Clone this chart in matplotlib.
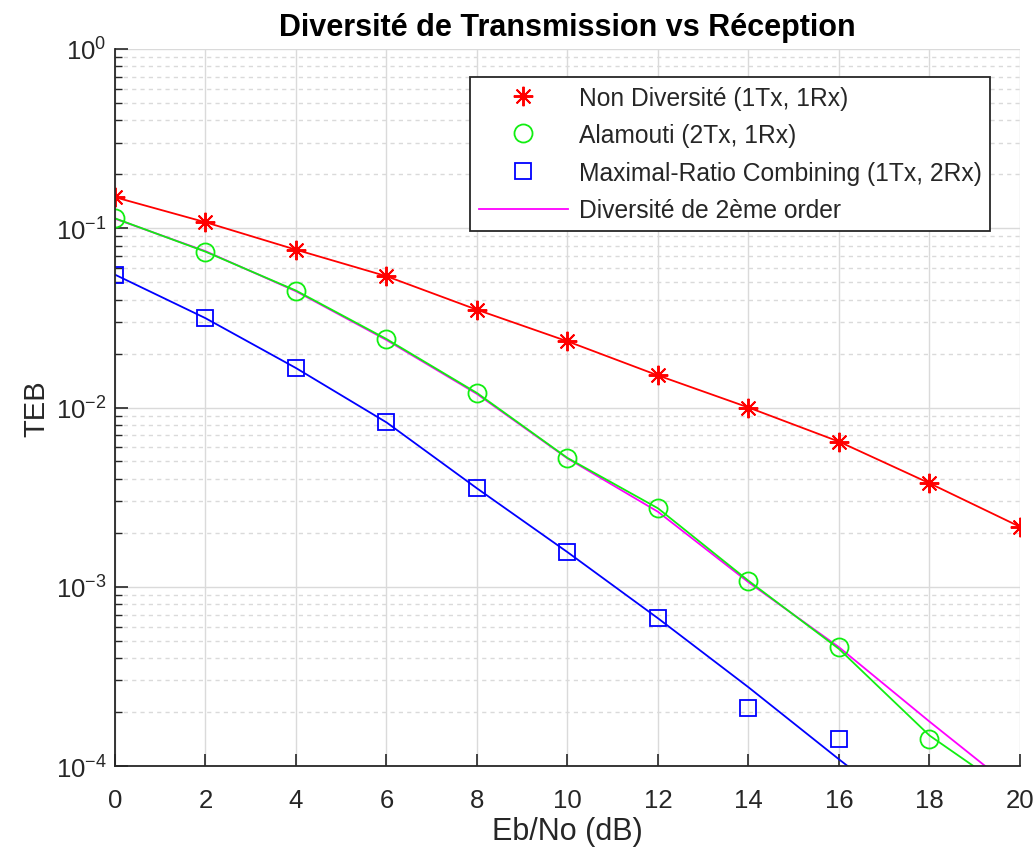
import numpy as np
import matplotlib
matplotlib.use("Agg")
import matplotlib.pyplot as plt
from matplotlib.ticker import LogLocator, NullFormatter

plt.rcParams['font.family'] = ['Liberation Sans', 'DejaVu Sans']

# Eb/No (dB)
snr_db = [0, 2, 4, 6, 8, 10, 12, 14, 16, 18, 20]

# simulated points (markers)
ber_siso = [0.149, 0.108, 0.0759, 0.0540, 0.0351, 0.0234, 0.0151, 0.0100, 0.00645, 0.00378, 0.00216]
ber_alamouti = [0.1136, 0.0740, 0.0449, 0.0241, 0.01205, 0.00523, 0.00274, 0.00108, 0.000459, 0.000141]
ber_mrc = [0.0551, 0.0315, 0.0166, 0.00826, 0.00354, 0.001556, 0.000667, 0.000211, 0.000141]

# curves (lines)
line_siso = [0.149, 0.108, 0.0759, 0.0540, 0.0351, 0.0234, 0.0151, 0.0100, 0.00645, 0.00378, 0.00216]
line_alamouti = [0.1136, 0.0740, 0.0449, 0.0241, 0.01205, 0.00523, 0.00274, 0.00108, 0.000450, 0.000148, 0.000066]
line_mrc = [0.0551, 0.0315, 0.0166, 0.00826, 0.00354, 0.00156, 0.000667, 0.000275, 0.000109, 0.000044, 0.000018]
line_div2 = [0.1130, 0.0745, 0.0445, 0.0238, 0.0119, 0.00520, 0.00262, 0.00106, 0.000460, 0.000177, 0.000070]

labels = ['Non Diversité (1Tx, 1Rx)', 'Alamouti (2Tx, 1Rx)',
          'Maximal-Ratio Combining (1Tx, 2Rx)', 'Diversité de 2ème order']

txt = '#262626'
green = '#11ee11'
fig = plt.figure(figsize=(10.33, 8.53), dpi=100)
ax = fig.add_axes([0.1113, 0.1008, 0.8761, 0.8406])

# asterisk like MATLAB '*'
ax.plot(snr_db, ber_siso, linestyle='none', marker=(8, 2, 0), color='red', markersize=14,
        markeredgewidth=1.4, label=labels[0])
ax.plot(snr_db[:len(ber_alamouti)], ber_alamouti, linestyle='none', marker='o', color=green,
        markerfacecolor='none', markersize=13, markeredgewidth=1.3, label=labels[1])
ax.plot(snr_db[:len(ber_mrc)], ber_mrc, linestyle='none', marker='s', color='blue',
        markerfacecolor='none', markersize=11, markeredgewidth=1.3, label=labels[2])
ax.plot(snr_db, line_siso, color='red', lw=1.3)
ax.plot(snr_db, line_alamouti, color=green, lw=1.3)
ax.plot(snr_db, line_mrc, color='blue', lw=1.3)
ax.plot(snr_db, line_div2, color='magenta', lw=1.3, label=labels[3], zorder=1.9)

ax.set_yscale('log')
ax.set_xlim(0, 20)
ax.set_ylim(1e-4, 1)
ax.set_xticks(range(0, 21, 2))
ax.yaxis.set_major_locator(LogLocator(base=10, numticks=10))
ax.yaxis.set_minor_locator(LogLocator(base=10, subs=np.arange(2, 10), numticks=10))
ax.yaxis.set_minor_formatter(NullFormatter())

ax.grid(True, which='major', color='#dadada', lw=1.0)
ax.grid(True, which='minor', axis='y', color='#dadada', lw=1.0, linestyle=(0, (3, 3)))
ax.set_axisbelow(True)

for s in ['top', 'right']:
    ax.spines[s].set_visible(False)
for s in ['left', 'bottom']:
    ax.spines[s].set_color(txt)
    ax.spines[s].set_linewidth(1.3)

ax.tick_params(which='both', direction='in', colors=txt, labelsize=18.5)
ax.tick_params(which='major', length=9, width=1.2)
ax.tick_params(which='minor', length=5, width=1.0)
ax.tick_params(axis='x', pad=16)
ax.tick_params(axis='y', pad=6)

ax.set_xlabel('Eb/No (dB)', fontsize=22, color=txt, labelpad=3)
ax.set_ylabel('TEB', fontsize=21, color=txt, labelpad=4)
ax.set_title('Diversité de Transmission vs Réception', fontsize=22, fontweight='bold',
             color='black', pad=10)

leg = ax.legend(loc='upper right', bbox_to_anchor=(0.967, 0.961), fontsize=17.7,
                fancybox=False, framealpha=1, edgecolor='#262626', handlelength=3.6,
                borderpad=0.35, labelspacing=0.55, handletextpad=0.45, borderaxespad=0)
leg.get_frame().set_linewidth(1.3)
for t in leg.get_texts():
    t.set_color(txt)

fig.savefig('out.png', dpi=100)
